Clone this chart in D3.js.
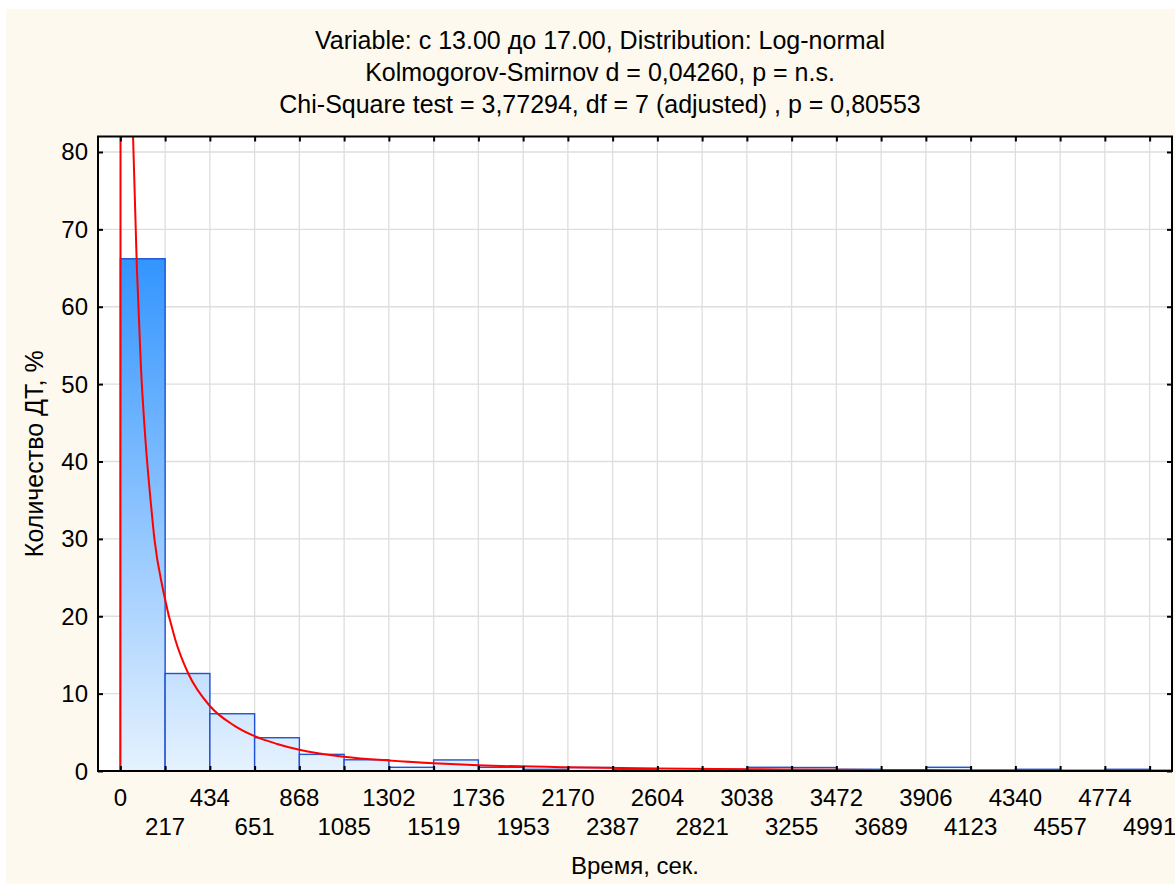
<!DOCTYPE html>
<html>
<head>
<meta charset="utf-8">
<script src="https://cdn.jsdelivr.net/npm/d3@7/dist/d3.min.js"></script>
<style>
  html, body { margin: 0; padding: 0; background: #ffffff; }
  svg { display: block; font-family: "Liberation Sans", Arial, sans-serif; }
</style>
</head>
<body>
<svg id="chart" width="1175" height="884"></svg>
<script>
// ---------- data ----------
const titleLines = [
  "Variable: с 13.00 до 17.00, Distribution: Log-normal",
  "Kolmogorov-Smirnov d = 0,04260, p = n.s.",
  "Chi-Square test = 3,77294, df = 7 (adjusted) , p = 0,80553"
];
const xAxisTitle = "Время, сек.";
const yAxisTitle = "Количество ДТ, %";
const binWidth = 217;
const binStarts = [0,217,434,651,868,1085,1302,1519,1736,1953,2170,2387,2604,2821,3038,3255,3472,3689,3906,4123,4340,4557,4774];
const binPercent = [66.2,12.6,7.4,4.3,2.15,1.45,0.48,1.43,0.48,0.22,0.45,0.22,0.0,0.22,0.48,0.45,0.22,0.0,0.48,0.0,0.22,0.0,0.22];
const xTickValues = [0,217,434,651,868,1085,1302,1519,1736,1953,2170,2387,2604,2821,3038,3255,3472,3689,3906,4123,4340,4557,4774,4991];
const yTickValues = [0,10,20,30,40,50,60,70,80];
// fitted log-normal curve (time, %)
const curveTime  = [-108.5,0,1,3,6,10,20,35,50,61.5,80,100,121,150,165,207,266,331,434,550,651,760,868,1085,1302,1519,1736,2170,2604,3038,3472,3906,4340,4774,5099.5];
const curveValue = [0,0,110,190,209,200,164,122,96,82,65,52,43,34,30,23.4,17.0,12.5,8.4,5.9,4.5,3.5,2.75,1.85,1.35,1.0,0.75,0.47,0.32,0.23,0.17,0.12,0.09,0.07,0.06];

// ---------- layout ----------
const svg = d3.select("#chart");
const W = 1175, H = 884;
const plot = { left: 98, right: 1172, top: 136.5, bottom: 771 };

svg.append("rect").attr("x", 6).attr("y", 9).attr("width", W - 6).attr("height", H - 9)
  .attr("fill", "#FDF9EE");

const x = d3.scaleLinear().domain([-108.5, 4991 + 108.5]).range([plot.left, plot.right]);
const y = d3.scaleLinear().domain([0, 82]).range([plot.bottom, plot.top]);

// plot background
svg.append("rect").attr("x", plot.left).attr("y", plot.top)
  .attr("width", plot.right - plot.left).attr("height", plot.bottom - plot.top)
  .attr("fill", "#ffffff");

// grid
const grid = svg.append("g");
grid.selectAll("line.v").data(xTickValues).join("line")
  .attr("x1", d => x(d)).attr("x2", d => x(d))
  .attr("y1", plot.top).attr("y2", plot.bottom)
  .attr("stroke", "#dedede").attr("stroke-width", 1.3);
grid.selectAll("line.h").data(yTickValues).join("line")
  .attr("x1", plot.left).attr("x2", plot.right)
  .attr("y1", d => y(d)).attr("y2", d => y(d))
  .attr("stroke", "#dedede").attr("stroke-width", 1.3);

// gradient
const defs = svg.append("defs");
const maxBar = d3.max(binPercent);
const grad = defs.append("linearGradient").attr("id", "barGrad")
  .attr("gradientUnits", "userSpaceOnUse")
  .attr("x1", 0).attr("x2", 0).attr("y1", y(maxBar)).attr("y2", y(0));
grad.append("stop").attr("offset", "0%").attr("stop-color", "#3395FF");
grad.append("stop").attr("offset", "100%").attr("stop-color", "#E6F2FE");

defs.append("clipPath").attr("id", "plotClip").append("rect")
  .attr("x", plot.left).attr("y", plot.top)
  .attr("width", plot.right - plot.left).attr("height", plot.bottom - plot.top);

// bars
const bars = binStarts.map((s, i) => ({ s, e: s + binWidth, v: binPercent[i] }));
svg.append("g").selectAll("rect").data(bars).join("rect")
  .attr("x", d => x(d.s)).attr("width", d => x(d.e) - x(d.s))
  .attr("y", d => y(d.v)).attr("height", d => y(0) - y(d.v))
  .attr("fill", "url(#barGrad)")
  .attr("stroke", "#1F52D4").attr("stroke-width", 1.4);

// curve
const curvePts = curveTime.map((t, i) => [t, curveValue[i]]);
svg.append("path").datum(curvePts)
  .attr("clip-path", "url(#plotClip)")
  .attr("fill", "none").attr("stroke", "#FF0000").attr("stroke-width", 2)
  .attr("d", d3.line().x(d => x(d[0])).y(d => y(d[1])).curve(d3.curveMonotoneX));

// frame
svg.append("rect").attr("x", plot.left).attr("y", plot.top)
  .attr("width", plot.right - plot.left).attr("height", plot.bottom - plot.top)
  .attr("fill", "none").attr("stroke", "#000").attr("stroke-width", 2);

// axes (inward ticks)
const fontSize = 24;
const xAxisB = svg.append("g").attr("transform", `translate(0,${plot.bottom})`)
  .call(d3.axisBottom(x).tickValues(xTickValues).tickSizeInner(-5).tickSizeOuter(0).tickFormat(""));
const xAxisT = svg.append("g").attr("transform", `translate(0,${plot.top})`)
  .call(d3.axisTop(x).tickValues(xTickValues).tickSizeInner(-5).tickSizeOuter(0).tickFormat(""));
const yAxisL = svg.append("g").attr("transform", `translate(${plot.left},0)`)
  .call(d3.axisLeft(y).tickValues(yTickValues).tickSizeInner(-5).tickSizeOuter(0).tickFormat(""));
const yAxisR = svg.append("g").attr("transform", `translate(${plot.right},0)`)
  .call(d3.axisRight(y).tickValues(yTickValues).tickSizeInner(-5).tickSizeOuter(0).tickFormat(""));
[xAxisB, xAxisT, yAxisL, yAxisR].forEach(g => {
  g.select(".domain").remove();
  g.selectAll(".tick line").attr("stroke", "#000").attr("stroke-width", 2);
});

// x tick labels in two rows
svg.append("g").selectAll("text").data(xTickValues).join("text")
  .attr("x", d => x(d))
  .attr("y", (d, i) => i % 2 === 0 ? 806 : 835)
  .attr("text-anchor", "middle").attr("font-size", fontSize).attr("fill", "#000")
  .text(d => d);

// y tick labels
svg.append("g").selectAll("text").data(yTickValues).join("text")
  .attr("x", 88).attr("y", d => y(d) + 8.5)
  .attr("text-anchor", "end").attr("font-size", fontSize).attr("fill", "#000")
  .text(d => d);

// titles
svg.append("g").selectAll("text").data(titleLines).join("text")
  .attr("x", 600).attr("y", (d, i) => 49 + i * 32)
  .attr("text-anchor", "middle").attr("font-size", 25).attr("fill", "#000")
  .text(d => d);

svg.append("text").attr("x", 635).attr("y", 874)
  .attr("text-anchor", "middle").attr("font-size", fontSize).attr("fill", "#000")
  .text(xAxisTitle);

svg.append("text").attr("transform", `translate(43,${(plot.top + plot.bottom) / 2}) rotate(-90)`)
  .attr("text-anchor", "middle").attr("font-size", 25).attr("fill", "#000")
  .text(yAxisTitle);
</script>
</body>
</html>
